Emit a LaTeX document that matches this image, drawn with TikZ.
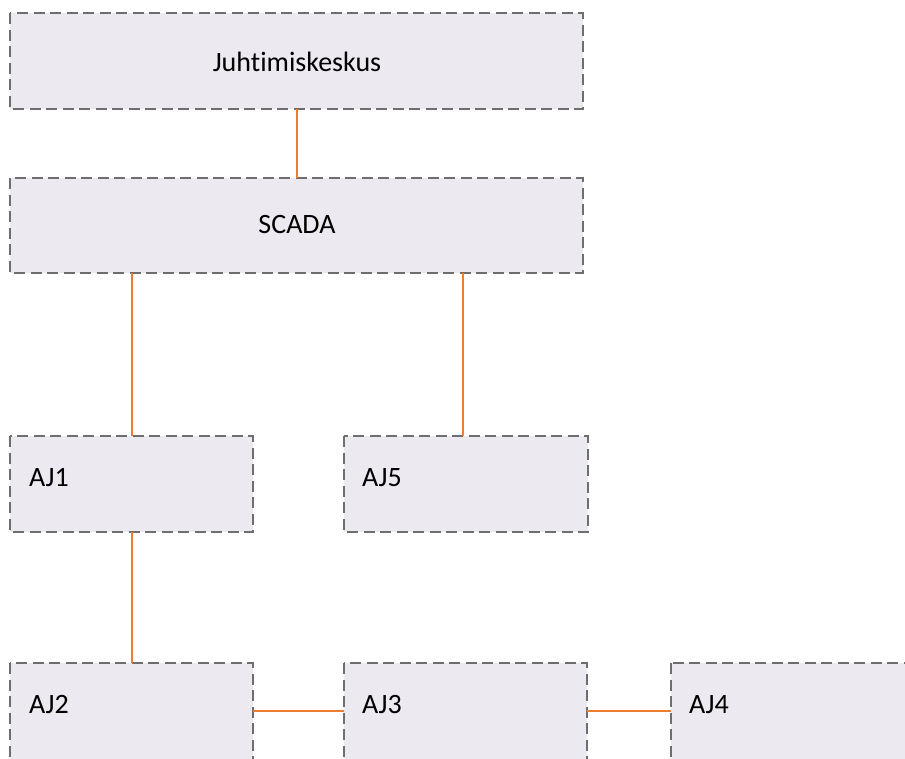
\documentclass[tikz,border=0pt]{standalone}
\usepackage{fontspec}
\setmainfont{Carlito}[Ligatures={NoCommon,NoContextual}]
\definecolor{boxfill}{HTML}{ECE9F1}
\definecolor{boxline}{HTML}{6E6E6E}
\definecolor{link}{HTML}{ED7D31}
\begin{document}
\begin{tikzpicture}[x=1pt,y=-1pt,
  unit/.style={draw=boxline, fill=boxfill, line width=2pt, dash pattern=on 11pt off 5.5pt},
  lbl/.style={font=\fontsize{28}{33}\selectfont, anchor=base west, inner sep=0pt},
  clbl/.style={font=\fontsize{28}{33}\selectfont, anchor=base, inner sep=0pt},
  wire/.style={draw=link, line width=2pt}]
\useasboundingbox (0,0) rectangle (905,758);
\path[unit] (10,13) rectangle (583,109);
\node[clbl] (jk) at (297,71.5) {Juhtimiskeskus};
\path[unit] (10,178) rectangle (583,273);
\node[clbl] (sc) at (297,233) {SCADA};
\path[unit] (10,436) rectangle (253,532);
\node[lbl] (aj1) at (29,486.5) {AJ1};
\path[unit] (344,436) rectangle (588,532);
\node[lbl] (aj5) at (362,486.5) {AJ5};
\path[unit] (10,663) rectangle (253,775);
\node[lbl] (aj2) at (29,713) {AJ2};
\path[unit] (344,663) rectangle (587,775);
\node[lbl] (aj3) at (362,713) {AJ3};
\path[unit] (671,663) rectangle (920,775);
\node[lbl] (aj4) at (689,713) {AJ4};
\coordinate (jkb) at (297,109);
\coordinate (sct) at (297,178);
\coordinate (scb1) at (132,273);
\coordinate (aj1t) at (132,436);
\coordinate (scb5) at (463,273);
\coordinate (aj5t) at (463,436);
\coordinate (aj1b) at (132,532);
\coordinate (aj2t) at (132,663);
\coordinate (aj2r) at (253,711);
\coordinate (aj3l) at (344,711);
\coordinate (aj3r) at (587,711);
\coordinate (aj4l) at (671,711);
\draw[wire] (jkb) -- (sct);
\draw[wire] (scb1) -- (aj1t);
\draw[wire] (scb5) -- (aj5t);
\draw[wire] (aj1b) -- (aj2t);
\draw[wire] (aj2r) -- (aj3l);
\draw[wire] (aj3r) -- (aj4l);
\end{tikzpicture}
\end{document}
